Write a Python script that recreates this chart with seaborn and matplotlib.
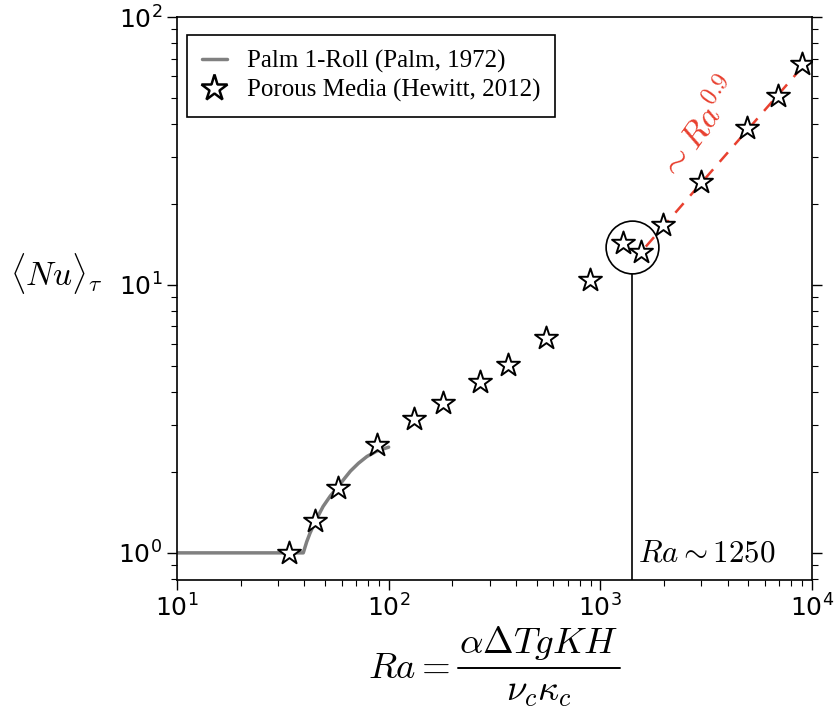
import matplotlib
matplotlib.use("Agg")
import matplotlib.pyplot as plt
from matplotlib.lines import Line2D
import seaborn as sns
import pandas as pd

# Palm (1972) one-roll solution
palm_ra = [10, 39.5, 41, 42.5, 45, 49, 53, 57.5, 62, 66, 72, 79, 88, 100]
palm_nu = [1.0, 1.0, 1.10, 1.185, 1.31, 1.49, 1.63, 1.76, 1.90, 2.02, 2.16, 2.29, 2.40, 2.48]

# Porous media simulations (Hewitt, 2012)
porous_ra = [33.8, 44.9, 57.5, 88, 132, 180, 270, 366, 553, 893,
             1280, 1556, 1977, 2987, 4930, 6900, 8960]
porous_nu = [1.0, 1.31, 1.74, 2.52, 3.15, 3.61, 4.36, 5.01, 6.33, 10.4,
             14.4, 13.3, 16.8, 24.3, 38.4, 50.6, 66.7]

# High-Ra power-law guide, Nu ~ Ra^0.9
fit_ra = [1640, 9600]
fit_nu = [13.9, 69.0]

# Transition marker
transition_ra = 1406
transition_nu = 13.8
transition_line_top = 11.0

RED = "#e8402f"
GRAY = "#808080"
W, H = 837, 712

sns.set_style("ticks")
plt.rcParams["mathtext.fontset"] = "cm"
plt.rcParams["font.family"] = ["DejaVu Sans"]
for key in ["text.color", "axes.labelcolor", "xtick.color", "ytick.color",
            "axes.edgecolor"]:
    plt.rcParams[key] = "black"

fig = plt.figure(figsize=(W / 100, H / 100), dpi=100)
ax = fig.add_axes([177 / W, 1 - 580 / H, (812 - 177) / W, (580 - 17) / H])

palm_df = pd.DataFrame({"Ra": palm_ra, "Nu": palm_nu})
porous_df = pd.DataFrame({"Ra": porous_ra, "Nu": porous_nu})

sns.lineplot(data=palm_df, x="Ra", y="Nu", ax=ax, color=GRAY, lw=2.5,
             sort=False, zorder=2)
ax.plot(fit_ra, fit_nu, ls=(0, (5, 4)), color=RED, lw=1.8, zorder=2)
sns.scatterplot(data=porous_df, x="Ra", y="Nu", ax=ax, marker="*", s=300,
                facecolor="white", edgecolor="black", linewidth=1.4, zorder=3)

ax.plot([transition_ra], [transition_nu], marker="o", ms=38, mfc="none",
        mec="black", mew=1.2, zorder=4)

ax.set_xscale("log")
ax.set_yscale("log")
ax.set_xlim(10, 1e4)
ax.set_ylim(0.792, 100)

ax.vlines(transition_ra, 0.792, transition_line_top, color="black", lw=1.2)

ax.text(1507, 1.0, r"$Ra \sim 1250$", fontsize=22.3, ha="left", va="center")
ax.text(2951, 37.8, r"$\sim Ra^{0.9}$", fontsize=25, color=RED,
        rotation=55, ha="center", va="center", rotation_mode="anchor")

# x-axis label, typeset as a display-style fraction
ax.set_xlabel("")
lab_fs = 26.5
fig.text(368 / W, 1 - 678 / H, r"$Ra =$", fontsize=lab_fs, ha="left", va="baseline")
fig.text(538.5 / W, 1 - 653 / H, r"$\alpha \Delta T g K H$", fontsize=lab_fs,
         ha="center", va="baseline")
fig.add_artist(Line2D([458 / W, 620 / W], [1 - 668 / H, 1 - 668 / H],
                      color="black", lw=1.4, transform=fig.transFigure))
fig.text(538.5 / W, 1 - 701 / H, r"$\nu_c \kappa_c$", fontsize=lab_fs,
         ha="center", va="baseline")

ax.set_ylabel(r"$\langle Nu \rangle_{\tau}$", fontsize=24, rotation=0)
ax.yaxis.set_label_coords(-0.263, 0.545)
ax.yaxis.label.set_ha("left")
ax.yaxis.label.set_va("center")

for side in ["top", "right", "left", "bottom"]:
    ax.spines[side].set_visible(True)
    ax.spines[side].set_color("black")
    ax.spines[side].set_linewidth(1.2)

ax.tick_params(axis="both", which="major", labelsize=18, direction="out",
               length=7, width=1, colors="black")
ax.tick_params(axis="both", which="minor", direction="out", length=4, width=0.8)
ax.tick_params(axis="y", which="both", right=True, left=True)
ax.tick_params(axis="x", which="both", top=False, bottom=True)

handles = [
    Line2D([], [], color=GRAY, lw=2.5),
    Line2D([], [], ls="", marker="*", ms=20, mfc="white", mec="black", mew=1.8),
]
labels = ["Palm 1-Roll (Palm, 1972)", "Porous Media (Hewitt, 2012)"]
leg = ax.legend(handles, labels, loc="upper left", bbox_to_anchor=(0.0157, 0.968),
                borderaxespad=0, fancybox=False, edgecolor="black", framealpha=1,
                handlelength=1.0, labelspacing=0.25, borderpad=0.6,
                prop={"family": "Liberation Serif", "size": 18})
leg.get_frame().set_linewidth(1.2)

fig.savefig("out.png", dpi=100)
